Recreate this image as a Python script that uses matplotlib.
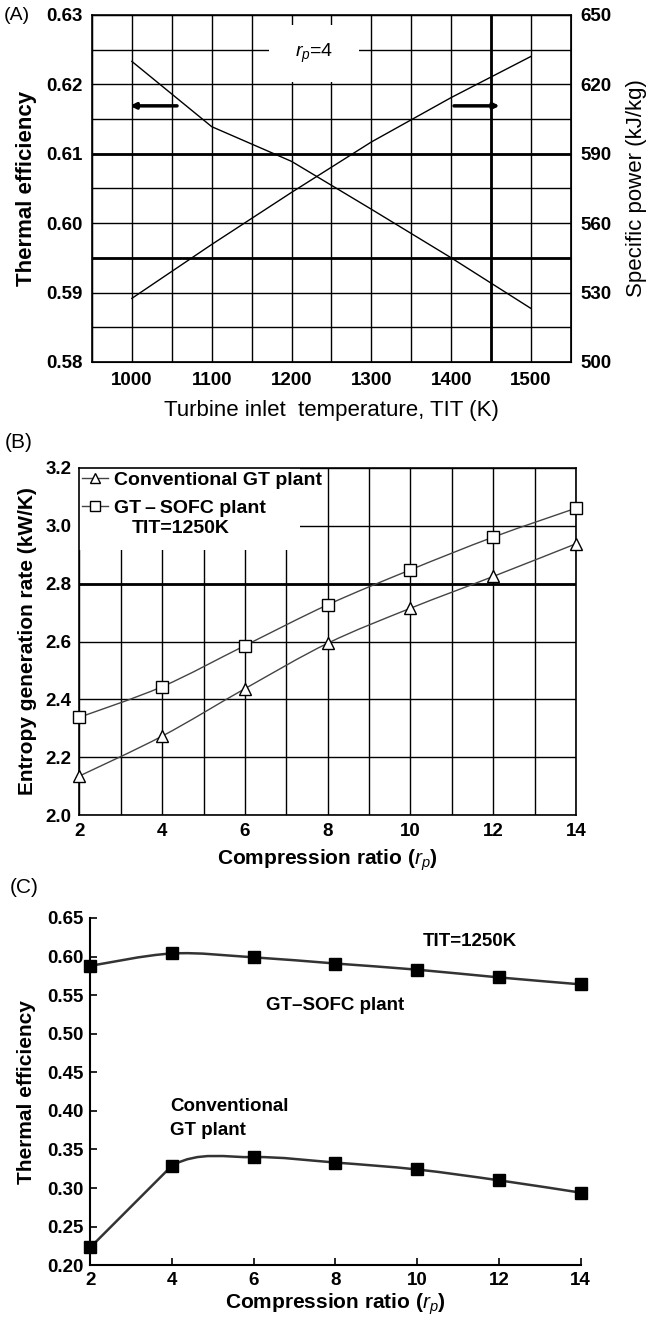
import numpy as np
import matplotlib
matplotlib.use('Agg')
import matplotlib.pyplot as plt
from matplotlib.path import Path
from matplotlib.patches import PathPatch, Rectangle
from matplotlib.ticker import MultipleLocator

plt.rcParams['font.family'] = ['Liberation Sans', 'DejaVu Sans']
plt.rcParams['mathtext.fontset'] = 'custom'
plt.rcParams['mathtext.it'] = 'Liberation Sans:italic'
plt.rcParams['mathtext.bfit'] = 'Liberation Sans:italic:bold'

# (A) turbine inlet temperature sweep, rp = 4
tit = [1000, 1100, 1200, 1300, 1400, 1500]
eff_a = [0.6233, 0.6139, 0.6089, 0.6020, 0.5950, 0.5877]
power_a = [527.5, 550.8, 573.3, 595.1, 614.3, 632.1]
power_ticks = [500, 530, 560, 590, 620, 650]

# (B) entropy generation vs compression ratio
rp = [2, 4, 6, 8, 10, 12, 14]
sgen_gt = [2.135, 2.273, 2.437, 2.594, 2.715, 2.825, 2.938]
sgen_sofc = [2.338, 2.444, 2.586, 2.727, 2.848, 2.961, 3.061]

# (C) thermal efficiency vs compression ratio
eff_sofc = [0.588, 0.604, 0.599, 0.591, 0.583, 0.573, 0.564]
eff_gt = [0.223, 0.329, 0.340, 0.333, 0.324, 0.310, 0.294]


def smooth_path(x, y, straight_first=False):
    # catmull-rom through the points, as bezier segments
    x = np.asarray(x, float)
    y = np.asarray(y, float)
    n = len(x)
    verts = [(x[0], y[0])]
    codes = [Path.MOVETO]
    for i in range(n - 1):
        p0 = np.array([x[max(i - 1, 0)], y[max(i - 1, 0)]])
        p1 = np.array([x[i], y[i]])
        p2 = np.array([x[i + 1], y[i + 1]])
        p3 = np.array([x[min(i + 2, n - 1)], y[min(i + 2, n - 1)]])
        if i == 0 and straight_first:
            verts.append(tuple(p2))
            codes.append(Path.LINETO)
            continue
        c1 = p1 + (p2 - p0) / 6
        c2 = p2 - (p3 - p1) / 6
        verts += [tuple(c1), tuple(c2), tuple(p2)]
        codes += [Path.CURVE4] * 3
    return Path(verts, codes)


fig = plt.figure(figsize=(6.51, 13.22), dpi=100)

# ---------------- (A)
ax1 = fig.add_axes([0.1413, 0.7262, 0.7358, 0.2625])
ax1.set_xlim(950, 1550)
ax1.set_ylim(0.58, 0.63)
ax1.xaxis.set_major_locator(MultipleLocator(100))
ax1.xaxis.set_minor_locator(MultipleLocator(50))
ax1.yaxis.set_major_locator(MultipleLocator(0.01))
ax1.yaxis.set_minor_locator(MultipleLocator(0.005))
ax1.grid(True, which='both', color='black', lw=1.0)
ax1.axhline(0.61, color='black', lw=2.0, zorder=1.6)
ax1.axhline(0.595, color='black', lw=2.0, zorder=1.6)
ax1.axvline(1450, color='black', lw=2.0, zorder=1.6)
ax1.yaxis.set_major_formatter(plt.FuncFormatter(lambda v, p: '%.2f' % v))
ax1.tick_params(which='both', length=0, labelsize=13.5, pad=7)
for lab in ax1.get_xticklabels() + ax1.get_yticklabels():
    lab.set_fontweight('bold')
for s in ax1.spines.values():
    s.set_linewidth(1.2)
ax1.add_patch(Rectangle((1172, 0.6203), 113, 0.0082, fc='white', ec='none', zorder=1.8))
ax1.text(1228, 0.6245, r'$r_p$=4', ha='center', va='center', fontsize=14, zorder=3)
ax1.plot(tit, eff_a, color='black', lw=1.0, zorder=2)
ax1.annotate('', xy=(994, 0.6169), xytext=(1060, 0.6169),
             arrowprops=dict(arrowstyle='-|>', lw=2.5, color='black', mutation_scale=8))
ax1.annotate('', xy=(1464, 0.6169), xytext=(1400, 0.6169),
             arrowprops=dict(arrowstyle='-|>', lw=2.5, color='black', mutation_scale=8))
ax1.set_ylabel('Thermal efficiency', fontsize=16, fontweight='bold', labelpad=6)
ax1.set_xlabel('Turbine inlet  temperature, TIT (K)', fontsize=16, labelpad=8)

ax1b = ax1.twinx()
ax1b.set_ylim(500, 650)
ax1b.set_yticks(power_ticks)
ax1b.tick_params(length=0, labelsize=13.5, pad=7)
for lab in ax1b.get_yticklabels():
    lab.set_fontweight('bold')
ax1b.plot(tit, power_a, color='black', lw=1.0)
ax1b.set_ylabel('Specific power (kJ/kg)', fontsize=16, labelpad=10)

fig.text(0.005, 0.9885, '(A)', fontsize=14, va='center')

# ---------------- (B)
ax2 = fig.add_axes([0.1221, 0.3835, 0.7627, 0.2625])
ax2.set_xlim(2, 14)
ax2.set_ylim(2.0, 3.2)
ax2.xaxis.set_major_locator(MultipleLocator(2))
ax2.xaxis.set_minor_locator(MultipleLocator(1))
ax2.yaxis.set_major_locator(MultipleLocator(0.2))
ax2.grid(True, which='both', color='black', lw=1.0)
ax2.axhline(2.8, color='black', lw=2.0, zorder=1.6)
ax2.add_patch(Rectangle((2, 2.917), 5.34, 0.283, fc='white', ec='none', zorder=1.8))
ax2.tick_params(which='both', length=0, labelsize=13.5, pad=6)
for lab in ax2.get_xticklabels() + ax2.get_yticklabels():
    lab.set_fontweight('bold')
for s in ax2.spines.values():
    s.set_linewidth(1.2)
ax2.add_patch(PathPatch(smooth_path(rp, sgen_gt), fc='none', ec='#444444', lw=1.0, zorder=2))
ax2.add_patch(PathPatch(smooth_path(rp, sgen_sofc), fc='none', ec='#444444', lw=1.0, zorder=2))
ax2.plot(rp, sgen_gt, ls='none', marker='^', ms=9, mfc='white', mec='black', mew=1.0,
         clip_on=False, zorder=3)
ax2.plot(rp, sgen_sofc, ls='none', marker='s', ms=9, mfc='white', mec='black', mew=1.0,
         clip_on=False, zorder=3)
h1, = ax2.plot([], [], color='#444444', lw=1.0, marker='^', ms=7, mfc='white', mec='black')
h2, = ax2.plot([], [], color='#444444', lw=1.0, marker='s', ms=7, mfc='white', mec='black')
leg = ax2.legend([h1, h2], ['Conventional GT plant', 'GT\u2009\u2013\u2009SOFC plant'],
                 loc='upper left', frameon=False, handlelength=1.3,
                 handletextpad=0.3, borderaxespad=0.05, borderpad=0.1, labelspacing=0.55,
                 prop={'weight': 'bold', 'size': 14})
leg.set_zorder(4)
ax2.text(4.45, 2.992, 'TIT=1250K', ha='center', va='center', fontsize=14,
         fontweight='bold', zorder=4)
ax2.set_ylabel('Entropy generation rate (kW/K)', fontsize=15, fontweight='bold', labelpad=6)
ax2.set_xlabel(r'Compression ratio ($\boldsymbol{r_p}$)', fontsize=15, fontweight='bold',
               labelpad=5)

fig.text(0.008, 0.665, '(B)', fontsize=15, va='center')

# ---------------- (C)
ax3 = fig.add_axes([0.1387, 0.0430, 0.7531, 0.2626])
ax3.set_xlim(2, 14)
ax3.set_ylim(0.20, 0.65)
ax3.xaxis.set_major_locator(MultipleLocator(2))
ax3.yaxis.set_major_locator(MultipleLocator(0.05))
ax3.yaxis.set_major_formatter(plt.FuncFormatter(lambda v, p: '%.2f' % v))
ax3.spines['top'].set_visible(False)
ax3.spines['right'].set_visible(False)
ax3.spines['left'].set_linewidth(1.5)
ax3.spines['bottom'].set_linewidth(1.5)
ax3.tick_params(direction='in', length=5, width=1.2, labelsize=13.5, pad=5)
for lab in ax3.get_xticklabels() + ax3.get_yticklabels():
    lab.set_fontweight('bold')
ax3.add_patch(PathPatch(smooth_path(rp, eff_sofc), fc='none', ec='#333333', lw=1.8, zorder=2))
ax3.add_patch(PathPatch(smooth_path(rp, eff_gt, straight_first=True), fc='none',
                        ec='#333333', lw=1.8, zorder=2))
ax3.plot(rp, eff_sofc, ls='none', marker='s', ms=9, color='black', clip_on=False, zorder=3)
ax3.plot(rp, eff_gt, ls='none', marker='s', ms=9, color='black', clip_on=False, zorder=3)
ax3.text(11.3, 0.620, 'TIT=1250K', ha='center', va='center', fontsize=13.5, fontweight='bold')
ax3.text(8.0, 0.537, 'GT\u2013SOFC plant', ha='center', va='center', fontsize=13.5,
         fontweight='bold')
ax3.text(3.95, 0.39, 'Conventional\nGT plant', ha='left', va='center', fontsize=13.5,
         fontweight='bold', linespacing=1.6)
ax3.set_ylabel('Thermal efficiency', fontsize=15, fontweight='bold', labelpad=8)
ax3.set_xlabel(r'Compression ratio ($\boldsymbol{r_p}$)', fontsize=15, fontweight='bold',
               labelpad=2)

fig.text(0.015, 0.3285, '(C)', fontsize=15, va='center')

fig.savefig('out.png', dpi=100)
